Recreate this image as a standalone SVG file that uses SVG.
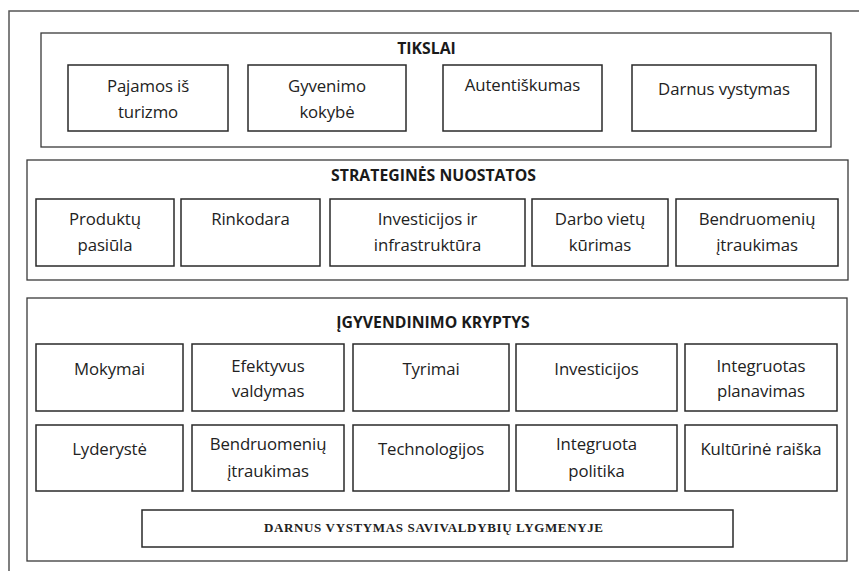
<svg xmlns="http://www.w3.org/2000/svg" width="859" height="571" viewBox="0 0 859 571">
<style>
.frame{fill:none;stroke:#555;stroke-width:1.5}
.grp{fill:none;stroke:#3a3a3a;stroke-width:1.3}
.box{fill:#fff;stroke:#2a2a2a;stroke-width:1.5}
.t{font-family:"Open Sans","Noto Sans","DejaVu Sans",sans-serif;font-size:16.8px;letter-spacing:-0.1px;fill:#222;text-anchor:middle}
.h{font-family:"Open Sans","Noto Sans","DejaVu Sans",sans-serif;font-size:15.8px;font-weight:bold;fill:#1a1a1a;text-anchor:middle}
.s{font-family:"Liberation Serif","Times New Roman",serif;font-size:13px;font-weight:bold;fill:#222;text-anchor:middle}
</style>
<rect width="859" height="571" fill="#fff"/>
<path class="frame" d="M9,600 V11 H870"/>
<g id="connectors"></g>

<g id="tikslai">
<rect class="grp" x="41" y="33" width="790" height="114"/>
<text class="h" x="426.5" y="54">TIKSLAI</text>
</g>
<g id="g1"><rect class="box" x="68" y="65" width="160" height="66"/><text class="t" x="148" y="92">Pajamos iš<tspan x="148" dy="26">turizmo</tspan></text></g>
<g id="g2"><rect class="box" x="248" y="65" width="158" height="66"/><text class="t" x="327" y="92">Gyvenimo<tspan x="327" dy="26">kokybė</tspan></text></g>
<g id="g3"><rect class="box" x="443" y="65" width="159" height="66"/><text class="t" x="522.5" y="91">Autentiškumas</text></g>
<g id="g4"><rect class="box" x="632" y="65" width="184" height="66"/><text class="t" x="724" y="95">Darnus vystymas</text></g>

<g id="strategines">
<rect class="grp" x="27" y="160" width="821" height="120"/>
<text class="h" x="433.5" y="181">STRATEGINĖS NUOSTATOS</text>
</g>
<g id="s1"><rect class="box" x="36" y="199" width="138" height="67"/><text class="t" x="105" y="224.5">Produktų<tspan x="105" dy="26.5">pasiūla</tspan></text></g>
<g id="s2"><rect class="box" x="181" y="199" width="139" height="67"/><text class="t" x="250.5" y="224.5">Rinkodara</text></g>
<g id="s3"><rect class="box" x="330" y="199" width="195" height="67"/><text class="t" x="427.5" y="224.5">Investicijos ir<tspan x="427.5" dy="26.5">infrastruktūra</tspan></text></g>
<g id="s4"><rect class="box" x="532" y="199" width="136" height="67"/><text class="t" x="600" y="224.5">Darbo vietų<tspan x="600" dy="26.5">kūrimas</tspan></text></g>
<g id="s5"><rect class="box" x="676" y="199" width="162" height="67"/><text class="t" x="757" y="224.5">Bendruomenių<tspan x="757" dy="26.5">įtraukimas</tspan></text></g>

<g id="kryptys">
<rect class="grp" x="27" y="298" width="820" height="263"/>
<text class="h" x="433" y="328">ĮGYVENDINIMO KRYPTYS</text>
</g>
<g id="k1"><rect class="box" x="36" y="344" width="147" height="67"/><text class="t" x="109.5" y="375">Mokymai</text></g>
<g id="k2"><rect class="box" x="192" y="344" width="152" height="67"/><text class="t" x="268" y="371.5">Efektyvus<tspan x="268" dy="25.5">valdymas</tspan></text></g>
<g id="k3"><rect class="box" x="353" y="344" width="156" height="67"/><text class="t" x="431" y="375">Tyrimai</text></g>
<g id="k4"><rect class="box" x="516" y="344" width="161" height="67"/><text class="t" x="596.5" y="375">Investicijos</text></g>
<g id="k5"><rect class="box" x="685" y="344" width="152" height="67"/><text class="t" x="761" y="371.5">Integruotas<tspan x="761" dy="25.5">planavimas</tspan></text></g>

<g id="k6"><rect class="box" x="36" y="425" width="147" height="66"/><text class="t" x="109.5" y="455">Lyderystė</text></g>
<g id="k7"><rect class="box" x="192" y="425" width="152" height="66"/><text class="t" x="268" y="450">Bendruomenių<tspan x="268" dy="27">įtraukimas</tspan></text></g>
<g id="k8"><rect class="box" x="353" y="425" width="156" height="66"/><text class="t" x="431" y="455">Technologijos</text></g>
<g id="k9"><rect class="box" x="516" y="425" width="161" height="66"/><text class="t" x="596.5" y="450">Integruota<tspan x="596.5" dy="27">politika</tspan></text></g>
<g id="k10"><rect class="box" x="685" y="425" width="152" height="66"/><text class="t" x="761" y="455">Kultūrinė raiška</text></g>

<g id="darnus"><rect class="box" x="142" y="510" width="591" height="37"/><text class="s" x="433.5" y="532" textLength="339" lengthAdjust="spacing">DARNUS VYSTYMAS SAVIVALDYBIŲ LYGMENYJE</text></g>
</svg>
